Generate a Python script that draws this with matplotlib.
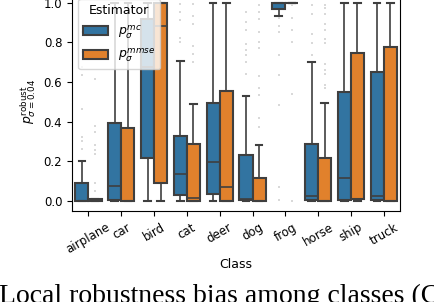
import matplotlib
matplotlib.use("Agg")
import matplotlib.pyplot as plt
from matplotlib.patches import Patch

classes = ["airplane", "car", "bird", "cat", "deer", "dog", "frog", "horse", "ship", "truck"]

# estimator mc
mc_q1 = [0.0, 0.005, 0.215, 0.03, 0.035, 0.005, 0.966, 0.005, 0.005, 0.005]
mc_med = [0.003, 0.077, 0.675, 0.136, 0.195, 0.012, 0.997, 0.027, 0.115, 0.027]
mc_q3 = [0.089, 0.395, 0.918, 0.329, 0.493, 0.232, 0.997, 0.289, 0.552, 0.652]
mc_lo = [0.0, 0.0, 0.0, 0.0, 0.0, 0.0, 0.93, 0.0, 0.0, 0.0]
mc_hi = [0.203, 1.0, 1.0, 0.707, 1.0, 0.529, 1.0, 0.70, 1.0, 1.0]
mc_fliers = [
    [0.262, 0.302, 0.324, 0.463, 0.635, 0.674, 0.75, 0.85],
    [], [],
    [0.80, 0.82, 0.91, 0.95, 0.995],
    [],
    [0.64, 0.70, 0.735, 0.76, 0.79, 0.86, 0.90, 0.95],
    [0.005, 0.07, 0.484, 0.635, 0.735, 0.85, 0.88, 0.92],
    [0.735, 0.795, 0.84, 0.94, 0.99],
    [], [],
]

# estimator mmse
mse_q1 = [0.0, 0.0, 0.092, 0.0, 0.0, 0.0, 1.0, 0.0, 0.01, 0.0]
mse_med = [0.002, 0.002, 0.883, 0.017, 0.072, 0.002, 1.0, 0.002, 0.01, 0.002]
mse_q3 = [0.012, 0.366, 1.0, 0.287, 0.556, 0.118, 1.0, 0.218, 0.747, 0.777]
mse_lo = [0.0, 0.0, 0.0, 0.0, 0.0, 0.0, 1.0, 0.0, 0.0, 0.0]
mse_hi = [0.012, 1.0, 1.0, 0.49, 1.0, 0.282, 1.0, 0.494, 1.0, 1.0]
mse_fliers = [
    [0.052, 0.089, 0.237, 0.257, 0.282, 0.35, 0.38, 0.613],
    [], [],
    [0.70, 0.74, 0.78, 0.89, 0.93, 0.995],
    [],
    [0.374, 0.42, 0.534, 0.57, 0.63, 0.77, 0.80, 0.85, 0.915, 0.95, 0.99],
    [0.0, 0.54, 0.80, 0.86, 0.92, 0.987],
    [0.57, 0.585, 0.64, 0.66, 0.69, 0.795, 0.815, 0.86, 0.89, 0.94, 0.97, 0.99],
    [], [],
]

blue = "#3274a1"
orange = "#e1812c"
edge = "#3f3f3f"

fig = plt.figure(figsize=(4.34, 3.02), dpi=100)
ax = fig.add_axes([0.166, 0.301, 0.756, 0.7235])


def stats(q1, med, q3, lo, hi, fl):
    return [dict(q1=a, med=b, q3=c, whislo=d, whishi=e, fliers=f)
            for a, b, c, d, e, f in zip(q1, med, q3, lo, hi, fl)]


for vals, off, col in [((mc_q1, mc_med, mc_q3, mc_lo, mc_hi, mc_fliers), -0.2, blue),
                       ((mse_q1, mse_med, mse_q3, mse_lo, mse_hi, mse_fliers), 0.2, orange)]:
    ax.bxp(stats(*vals), positions=[i + off for i in range(len(classes))],
           widths=0.4, patch_artist=True, manage_ticks=False,
           boxprops=dict(facecolor=col, edgecolor=edge, linewidth=1.5),
           medianprops=dict(color=edge, linewidth=1.2),
           whiskerprops=dict(color=edge, linewidth=1.2),
           capprops=dict(color=edge, linewidth=1.5),
           flierprops=dict(marker="s", markersize=1.6, markerfacecolor="#d9d9d9",
                           markeredgewidth=0, linestyle="none"))

ax.set_xlim(-0.5, len(classes) - 0.5)
ax.set_ylim(-0.05, 1.05)
ax.set_xticks(range(len(classes)))
ax.set_xticklabels(classes, rotation=30, fontsize=8.5)
ax.set_yticks([0.0, 0.2, 0.4, 0.6, 0.8, 1.0])
ax.set_yticklabels(["0.0", "0.2", "0.4", "0.6", "0.8", "1.0"], fontsize=8.5)
ax.set_xlabel("Class", fontsize=9, labelpad=1)
ax.set_ylabel(r"$p^{\mathrm{robust}}_{\sigma=0.04}$", fontsize=9)

handles = [Patch(facecolor=blue, edgecolor=edge, linewidth=1.5),
           Patch(facecolor=orange, edgecolor=edge, linewidth=1.5)]
ax.legend(handles, [r"$p_\sigma^{mc}$", r"$p_\sigma^{mmse}$"], title="Estimator",
          loc="upper left", fontsize=9, title_fontsize=9)

fig.text(-0.002, -0.004, "Local robustness bias among classes (C",
         family="Liberation Serif", fontsize=20, va="baseline", ha="left")

fig.savefig("out.png", dpi=100)
